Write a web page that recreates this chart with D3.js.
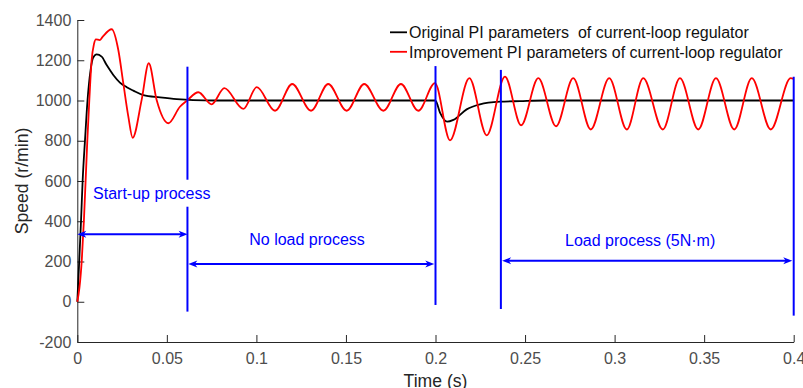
<!DOCTYPE html>
<html><head><meta charset="utf-8">
<script src="https://cdn.jsdelivr.net/npm/d3@7/dist/d3.min.js"></script>
<style>body{margin:0;background:#fff;} svg{display:block;font-family:"Liberation Sans",Arial,sans-serif;}</style>
</head><body><svg id="c" width="803" height="388"></svg>
<script>
// ---- data ----
const timeTicks = [0, 0.05, 0.1, 0.15, 0.2, 0.25, 0.3, 0.35, 0.4];
const timeTickLabels = ["0", "0.05", "0.1", "0.15", "0.2", "0.25", "0.3", "0.35", "0.4"];
const speedTicks = [-200, 0, 200, 400, 600, 800, 1000, 1200, 1400];
const speedTickLabels = ["-200", "0", "200", "400", "600", "800", "1000", "1200", "1400"];

const seriesNames = ["Original PI parameters  of current-loop regulator", "Improvement PI parameters of current-loop regulator"];

// Original PI parameters (black)
const originalT = [0, 0.0011, 0.0021, 0.0030, 0.0043, 0.0057, 0.0074, 0.0088, 0.0108, 0.0136, 0.0164, 0.0201, 0.0238, 0.0276, 0.0313, 0.0369, 0.0462, 0.0555, 0.0646, 0.0769, 0.1999, 0.2025, 0.2065, 0.2100, 0.2174, 0.2248, 0.2360, 0.2472, 0.2611, 0.4];
const originalV = [0, 207, 406, 605, 803, 1000, 1150, 1212, 1229, 1218, 1176, 1127, 1089, 1066, 1049, 1027, 1016, 1007, 1002, 1000, 1000, 940, 895, 904, 956, 981, 994, 997, 1000, 1000];

// Improvement PI parameters (red)
const improvedT = [0, 0.0012, 0.0025, 0.0037, 0.0056, 0.0067, 0.0080, 0.0093, 0.0104, 0.0125, 0.0140, 0.0192, 0.0229, 0.0257, 0.0285, 0.0309, 0.0359, 0.0399, 0.0443, 0.0508, 0.0573, 0.0613, 0.0676, 0.0750, 0.0821, 0.0927, 0.1002, 0.1104, 0.1200, 0.1305, 0.1401, 0.1504, 0.1602, 0.1709, 0.1807, 0.1904, 0.1997, 0.2081, 0.2189, 0.2286, 0.2388, 0.2478, 0.2574, 0.2673, 0.2769, 0.2867, 0.2970, 0.3068, 0.3160, 0.3269, 0.3365, 0.3467, 0.3566, 0.3668, 0.3766, 0.3872, 0.3983, 0.4];
const improvedV = [0, 70, 207, 406, 803, 1000, 1200, 1280, 1304, 1300, 1315, 1354, 1251, 1085, 920, 815, 1002, 1185, 1002, 887, 969, 1000, 1041, 981, 1061, 958, 1066, 949, 1082, 949, 1082, 949, 1082, 949, 1082, 949, 1086, 802, 1111, 827, 1119, 877, 1111, 872, 1111, 856, 1111, 856, 1111, 856, 1111, 856, 1111, 856, 1111, 856, 1111, 1108];

// annotations (data coordinates)
const markerT = [0.0615, 0.2, 0.2365, 0.4];
const markerTop = [1168, 1171, 1152, 1118];
const markerBottom = [-49, -16, -36, -69];

const spanFrom = [0, 0.0620, 0.2372];
const spanTo = [0.0616, 0.1993, 0.3992];
const spanV = [336, 188, 204];

const phaseLabels = ["Start-up process", "No load process", "Load process (5N\u00B7m)"];
const phaseLabelT = [0.0088, 0.0960, 0.2723];
const phaseLabelV = [512, 282, 275];

// ---- drawing ----
const svg = d3.select("#c");
const x = d3.scaleLinear().domain([0, 0.4]).range([77.3, 793.7]);
const y = d3.scaleLinear().domain([-200, 1400]).range([342, 20]);

const axisColor = "#262626";
const xAxis = d3.axisBottom(x).tickValues(timeTicks).tickFormat((d, i) => timeTickLabels[i])
  .tickSizeInner(-7).tickSizeOuter(0).tickPadding(11);
const yAxis = d3.axisLeft(y).tickValues(speedTicks).tickFormat((d, i) => speedTickLabels[i])
  .tickSizeInner(-7).tickSizeOuter(0).tickPadding(6);

function styleAxis(g) {
  g.attr("font-family", null).attr("font-size", null);
  g.select(".domain").attr("stroke", axisColor);
  g.selectAll(".tick line").attr("stroke", axisColor);
  g.selectAll(".tick text").attr("fill", "#4d4d4d").style("font-size", "16px");
}
svg.append("g").attr("transform", "translate(0,342)").call(xAxis).call(styleAxis);
svg.append("g").attr("transform", "translate(77.3,0)").call(yAxis).call(styleAxis);

// axis labels
svg.append("text").attr("x", (x(0) + x(0.4)) / 2).attr("y", 386.5).attr("text-anchor", "middle")
  .attr("fill", "#262626").style("font-size", "17.6px").text("Time (s)");
svg.append("text").attr("transform", `translate(28,${(y(-200) + y(1400)) / 2}) rotate(-90)`).attr("text-anchor", "middle")
  .attr("fill", "#262626").style("font-size", "17.6px").text("Speed (r/min)");

// curves
const line = d3.line().x(d => x(d[0])).y(d => y(d[1])).curve(d3.curveMonotoneX);
const originalData = originalT.map((t, i) => [t, originalV[i]]);
const improvedData = improvedT.map((t, i) => [t, improvedV[i]]);
svg.append("path").attr("d", line(originalData)).attr("fill", "none").attr("stroke", "#000").attr("stroke-width", 1.8);
svg.append("path").attr("d", line(improvedData)).attr("fill", "none").attr("stroke", "#ff0000").attr("stroke-width", 1.8);

// vertical markers
const blue = "#0000ff";
markerT.forEach((t, i) => {
  svg.append("line").attr("x1", x(t)).attr("x2", x(t)).attr("y1", y(markerTop[i])).attr("y2", y(markerBottom[i]))
    .attr("stroke", blue).attr("stroke-width", 2);
});

// double arrows
function head(px, py, dir) {
  const L = 9, W = 3.5, N = 6.5;
  return `M${px},${py} L${px - dir * L},${py - W} L${px - dir * N},${py} L${px - dir * L},${py + W} Z`;
}
spanFrom.forEach((t0, i) => {
  const x0 = x(t0), x1 = x(spanTo[i]), yy = y(spanV[i]);
  svg.append("line").attr("x1", x0 + 4).attr("x2", x1 - 4).attr("y1", yy).attr("y2", yy)
    .attr("stroke", blue).attr("stroke-width", 2);
  svg.append("path").attr("d", head(x1, yy, 1)).attr("fill", blue);
  svg.append("path").attr("d", head(x0, yy, -1)).attr("fill", blue);
});

// phase labels
phaseLabels.forEach((s, i) => {
  const t = svg.append("text").attr("x", x(phaseLabelT[i])).attr("y", y(phaseLabelV[i]))
    .attr("fill", blue).style("font-size", "16px").text(s);
  if (i === 0) {
    const b = t.node().getBBox();
    svg.insert("rect", () => t.node()).attr("x", b.x - 5).attr("y", b.y - 5)
      .attr("width", b.width + 10).attr("height", b.height + 10).attr("fill", "#fff");
  }
});

// legend
const legendColors = ["#000", "#ff0000"];
seriesNames.forEach((s, i) => {
  const ly = 32.3 + i * 19.5;
  svg.append("line").attr("x1", 390).attr("x2", 407).attr("y1", ly).attr("y2", ly)
    .attr("stroke", legendColors[i]).attr("stroke-width", 1.8);
  svg.append("text").attr("x", 409).attr("y", ly + 5.7).attr("fill", "#111")
    .style("font-size", "16px").style("white-space", "pre").attr("xml:space", "preserve").text(s);
});
</script>
</body></html>
